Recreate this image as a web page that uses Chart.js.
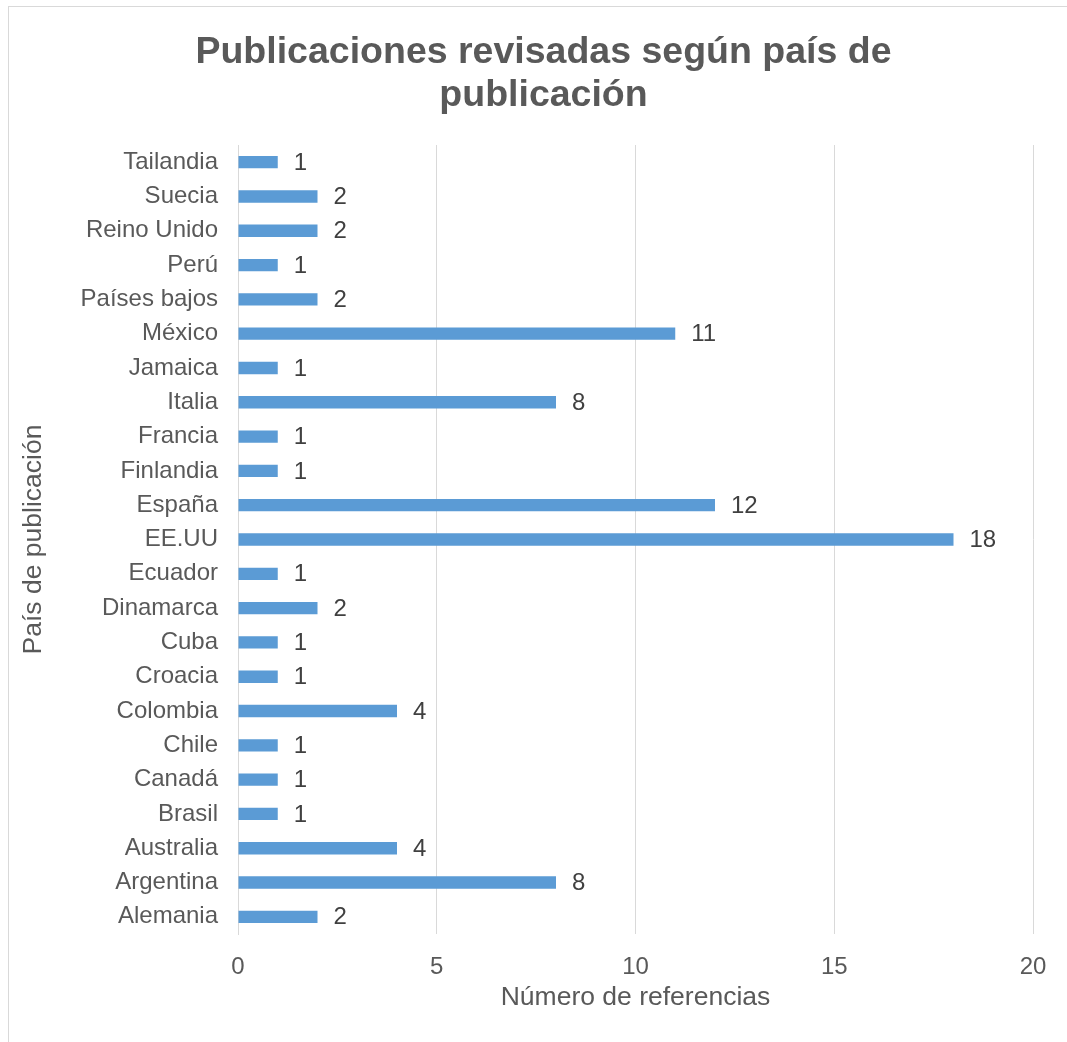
<!DOCTYPE html>
<html lang="es">
<head>
    <meta charset="UTF-8">
    <title>Publicaciones revisadas según país de publicación</title>
    <script src="https://cdn.jsdelivr.net/npm/chart.js"></script>
    <style>
        html, body { margin: 0; padding: 0; background: #fff; overflow: hidden; }
        #frame {
            position: absolute; left: 8px; top: 6px;
            width: 1069px; height: 1040px;
            border: 1px solid #d9d9d9;
        }
        canvas { display: block; }
    </style>
</head>
<body>
    <div id="frame">
        <canvas id="paisChart" width="1069" height="1035"></canvas>
    </div>
    <script>
        const paises = ['Alemania', 'Argentina', 'Australia', 'Brasil', 'Canadá', 'Chile', 'Colombia',
            'Croacia', 'Cuba', 'Dinamarca', 'Ecuador', 'EE.UU', 'España', 'Finlandia', 'Francia',
            'Italia', 'Jamaica', 'México', 'Países bajos', 'Perú', 'Reino Unido', 'Suecia', 'Tailandia'];
        const referencias = [2, 8, 4, 1, 1, 1, 4, 1, 1, 2, 1, 18, 12, 1, 1, 8, 1, 11, 2, 1, 2, 2, 1];
        const xTicks = [0, 5, 10, 15, 20];
        const tituloLineas = ['Publicaciones revisadas según país de', 'publicación'];

        // title drawn by hand so it sits in the middle of the whole frame
        const titlePlugin = {
            id: 'frameTitle',
            afterDraw(chart) {
                const ctx = chart.ctx;
                ctx.save();
                ctx.font = 'bold 37.5px "Liberation Sans", Arial, sans-serif';
                ctx.fillStyle = '#595959';
                ctx.textAlign = 'center';
                ctx.textBaseline = 'middle';
                tituloLineas.forEach((t, i) => ctx.fillText(t, chart.width / 2, 46 + i * 43));
                ctx.restore();
            }
        };

        // value labels at the end of each bar
        const valuePlugin = {
            id: 'barValues',
            afterDatasetsDraw(chart) {
                const ctx = chart.ctx;
                const meta = chart.getDatasetMeta(0);
                ctx.save();
                ctx.font = '24px "Liberation Sans", Arial, sans-serif';
                ctx.fillStyle = '#404040';
                ctx.textAlign = 'left';
                ctx.textBaseline = 'middle';
                meta.data.forEach((bar, i) => {
                    ctx.fillText(referencias[i], bar.x + 16, bar.y + 1);
                });
                ctx.restore();
            }
        };

        new Chart(document.getElementById('paisChart'), {
            type: 'bar',
            data: {
                labels: paises,
                datasets: [{
                    data: referencias,
                    backgroundColor: '#5b9bd5',
                    borderWidth: 0,
                    barPercentage: 0.36,
                    categoryPercentage: 1
                }]
            },
            plugins: [titlePlugin, valuePlugin],
            options: {
                indexAxis: 'y',
                responsive: false,
                animation: false,
                layout: { padding: { top: 138, right: 45, bottom: 0, left: 0 } },
                plugins: {
                    legend: { display: false },
                    title: { display: false },
                    tooltip: { enabled: false }
                },
                scales: {
                    x: {
                        min: 0,
                        max: 20,
                        afterBuildTicks: (scale) => { scale.ticks = xTicks.map(v => ({ value: v })); },
                        afterFit: (scale) => { scale.height = 108; },
                        grid: { color: '#d9d9d9', lineWidth: 1, drawTicks: false },
                        border: { display: false },
                        ticks: {
                            padding: 19,
                            color: '#595959',
                            font: { family: '"Liberation Sans", Arial, sans-serif', size: 24 }
                        },
                        title: {
                            display: true,
                            text: 'Número de referencias',
                            color: '#595959',
                            font: { family: '"Liberation Sans", Arial, sans-serif', size: 26.5 },
                            padding: { top: 0, bottom: 28 }
                        }
                    },
                    y: {
                        reverse: true,
                        afterFit: (scale) => { scale.width = 229; },
                        grid: { display: false, drawTicks: false },
                        border: { display: true, color: '#d9d9d9', width: 1 },
                        ticks: {
                            padding: 20,
                            autoSkip: false,
                            color: '#595959',
                            font: { family: '"Liberation Sans", Arial, sans-serif', size: 24 }
                        },
                        title: {
                            display: true,
                            text: 'País de publicación',
                            color: '#595959',
                            font: { family: '"Liberation Sans", Arial, sans-serif', size: 26.5 },
                            padding: { top: 9, bottom: 0 }
                        }
                    }
                }
            }
        });
    </script>
</body>
</html>
